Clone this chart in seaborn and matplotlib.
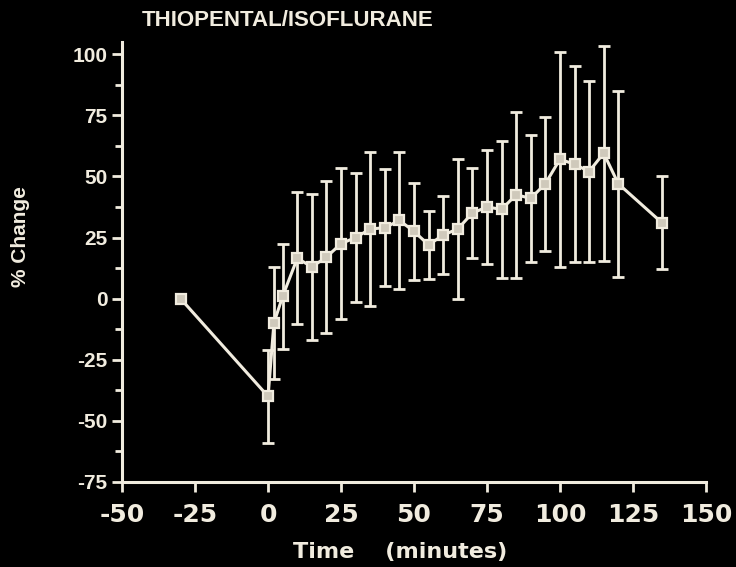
import matplotlib
matplotlib.use("Agg")
import matplotlib.pyplot as plt
import seaborn as sns
import numpy as np
import pandas as pd
from matplotlib.ticker import MultipleLocator

time_min = [-30, 0, 2, 5, 10, 15, 20, 25, 30, 35, 40, 45, 50, 55, 60, 65,
            70, 75, 80, 85, 90, 95, 100, 105, 110, 115, 120, 135]
pct_change = [0, -40, -10, 1, 16.5, 13, 17, 22.5, 25, 28.5, 29, 32, 27.5, 22,
              26, 28.5, 35, 37.5, 36.5, 42.5, 41, 47, 57, 55, 52, 59.5, 47, 31]
sd = [0, 19, 23, 21.5, 27, 30, 31, 31, 26.5, 31.5, 24, 28, 20, 14,
      16, 28.5, 18.5, 23.5, 28, 34, 26, 27.5, 44, 40, 37, 44, 38, 19]
x_ticks = [-50, -25, 0, 25, 50, 75, 100, 125, 150]
y_ticks = [-75, -50, -25, 0, 25, 50, 75, 100]

FG = "#f1ecdf"
BG = "#000000"

sns.set_theme(style="ticks", rc={
    "figure.facecolor": BG, "axes.facecolor": BG, "savefig.facecolor": BG,
    "axes.edgecolor": FG, "xtick.color": FG, "ytick.color": FG,
    "text.color": FG, "axes.labelcolor": FG,
})
plt.rcParams["font.family"] = ["Liberation Sans", "DejaVu Sans"]
plt.rcParams["axes.unicode_minus"] = False

df = pd.DataFrame({"time": time_min, "pct": pct_change, "sd": sd})

fig = plt.figure(figsize=(7.36, 5.67), dpi=100)
ax = fig.add_axes([0.166, 0.150, 0.793, 0.776])

err = df.iloc[1:]
ax.errorbar(err["time"], err["pct"], yerr=err["sd"], fmt="none",
            ecolor=FG, elinewidth=2.0, capsize=4.5, capthick=2.0, zorder=2)
sns.lineplot(data=df, x="time", y="pct", ax=ax, color=FG, linewidth=2.2,
             marker="s", markersize=7, markerfacecolor="#cfc9bb",
             markeredgecolor=FG, markeredgewidth=1.6, zorder=3)

ax.set_xlim(-50, 150)
ax.set_ylim(-75, 105)
ax.set_xticks(x_ticks)
ax.set_yticks(y_ticks)
ax.yaxis.set_minor_locator(MultipleLocator(12.5))
ax.tick_params(axis="both", which="major", length=7, width=2, direction="out")
ax.tick_params(axis="x", pad=8)
ax.tick_params(axis="y", which="minor", length=5, width=2, direction="out")
for lab in ax.get_xticklabels():
    lab.set_fontsize(18)
    lab.set_fontweight("bold")
    lab.set_family(["DejaVu Sans"])
for lab in ax.get_yticklabels():
    lab.set_fontsize(15)
    lab.set_fontweight("bold")
ax.spines["top"].set_visible(False)
ax.spines["right"].set_visible(False)
ax.spines["left"].set_linewidth(2.2)
ax.spines["bottom"].set_linewidth(2.2)
ax.set_xlabel("")
ax.set_ylabel("")

fig.text(0.391, 0.964, "THIOPENTAL/ISOFLURANE", ha="center", va="center",
         fontsize=16, fontweight="bold", color=FG)
fig.text(0.028, 0.582, "% Change", rotation=90, ha="center", va="center",
         fontsize=15, fontweight="bold", color=FG)
fig.text(0.543, 0.027, "Time    (minutes)", ha="center", va="center",
         fontsize=16, fontweight="bold", color=FG, family=["DejaVu Sans"])

fig.savefig("out.png", dpi=100, facecolor=BG)
